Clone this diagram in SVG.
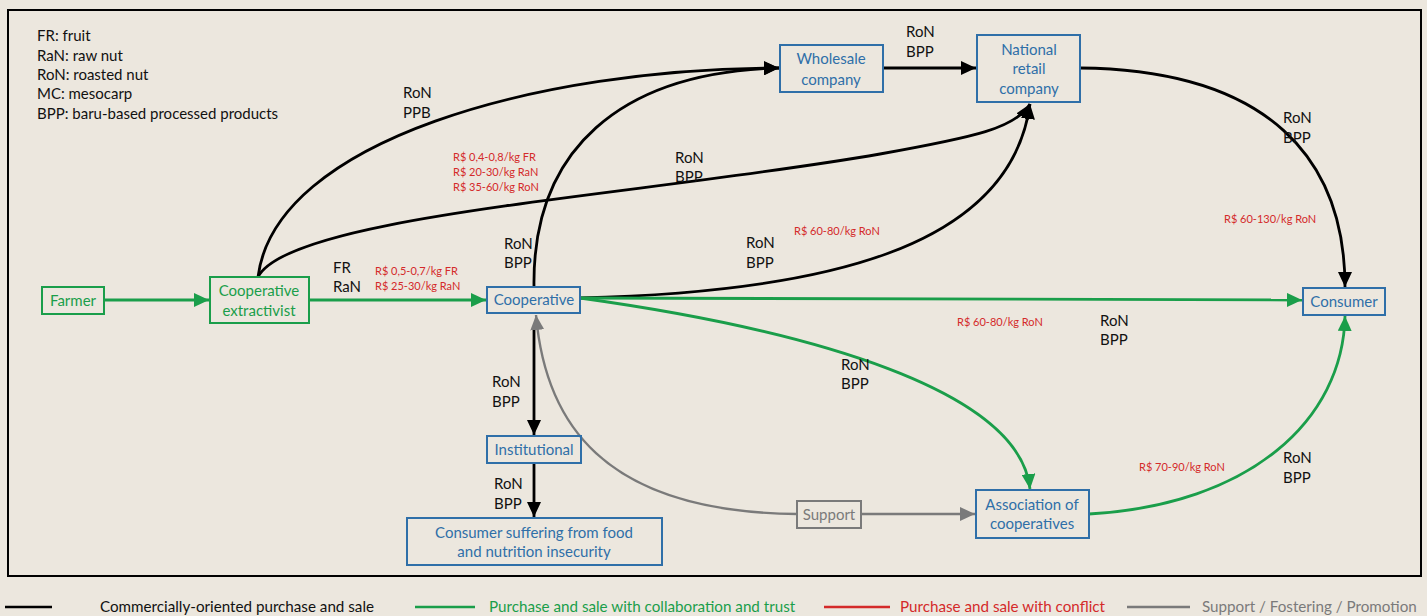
<svg xmlns="http://www.w3.org/2000/svg" width="1427" height="616" viewBox="0 0 1427 616">
  <style>
    text { font-family: Lato, "Open Sans", "Liberation Sans", sans-serif; }
    .lbl { font-size: 15px; fill: #111; }
    .price { font-size: 11px; fill: #d42a2a; }
    .nodeB rect { fill: none; stroke: #2f6fa8; stroke-width: 2; }
    .nodeB text { font-size: 15px; fill: #2f6fa8; text-anchor: middle; }
    .nodeG rect { fill: none; stroke: #1a9e4a; stroke-width: 2; }
    .nodeG text { font-size: 15px; fill: #1a9e4a; text-anchor: middle; }
    .nodeS rect { fill: none; stroke: #7a7a7a; stroke-width: 2; }
    .nodeS text { font-size: 15px; fill: #7a7a7a; text-anchor: middle; }
    .blk { fill: none; stroke: #000; stroke-width: 2.8; marker-end: url(#ahB); }
    .grn { fill: none; stroke: #1a9e4a; stroke-width: 2.8; marker-end: url(#ahG); }
    .gry { fill: none; stroke: #7a7a7a; stroke-width: 2.4; marker-end: url(#ahS); }
    .leg { font-size: 15.2px; }
  </style>
  <defs>
    <marker id="ahB" markerUnits="userSpaceOnUse" markerWidth="16" markerHeight="14" refX="15" refY="7" orient="auto">
      <path d="M0,0 L15,7 L0,14 z" fill="#000"/>
    </marker>
    <marker id="ahG" markerUnits="userSpaceOnUse" markerWidth="16" markerHeight="14" refX="15" refY="7" orient="auto">
      <path d="M0,0 L15,7 L0,14 z" fill="#1a9e4a"/>
    </marker>
    <marker id="ahS" markerUnits="userSpaceOnUse" markerWidth="16" markerHeight="14" refX="15" refY="7" orient="auto">
      <path d="M0,0 L15,7 L0,14 z" fill="#7a7a7a"/>
    </marker>
  </defs>

  <!-- paper background and frame -->
  <rect x="0" y="0" width="1427" height="616" fill="#ece7de"/>
  <rect x="8" y="10" width="1413" height="566" fill="none" stroke="#000" stroke-width="2"/>

  <!-- abbreviations -->
  <g id="abbrev" class="lbl">
    <text x="37" y="41">FR: fruit</text>
    <text x="37" y="61">RaN: raw nut</text>
    <text x="37" y="80">RoN: roasted nut</text>
    <text x="37" y="99">MC: mesocarp</text>
    <text x="37" y="119">BPP: baru-based processed products</text>
  </g>

  <!-- connectors -->
  <g id="connectors">
    <path class="grn" d="M104,300 L209,300"/>
    <path class="grn" d="M309,300 L486,300"/>
    <path class="blk" d="M258,277 C 275,140 540,68 779,68"/>
    <path class="blk" d="M258,277 C 290,215 640,196 880,154 C 975,137 1016,128 1030,104"/>
    <path class="blk" d="M534,287 C 532,150 620,72 779,68"/>
    <path class="blk" d="M580,298 C 820,292 1010,250 1030,104"/>
    <path class="blk" d="M883,68 L976,68"/>
    <path class="blk" d="M1080,68 C 1270,70 1345,160 1345,287"/>
    <path class="grn" d="M580,298 L1302,300"/>
    <path class="grn" d="M580,298 C 810,330 1020,390 1030,489"/>
    <path class="grn" d="M1089,514 C 1250,505 1343,420 1345,316"/>
    <path class="blk" d="M534,330 L534,435"/>
    <path class="gry" d="M797,514 C 600,512 545,420 536,315"/>
    <path class="blk" d="M534,463 L534,517"/>
    <path class="gry" d="M861,514 L975,514"/>
  </g>

  <!-- nodes -->
  <g id="farmer" class="nodeG">
    <rect x="42" y="287" width="62" height="27"/>
    <text x="73" y="306">Farmer</text>
  </g>
  <g id="coop-extractivist" class="nodeG">
    <rect x="210" y="277" width="99" height="46"/>
    <text x="259" y="296">Cooperative</text>
    <text x="259" y="316">extractivist</text>
  </g>
  <g id="cooperative" class="nodeB">
    <rect x="487" y="287" width="93" height="26"/>
    <text x="534" y="305">Cooperative</text>
  </g>
  <g id="wholesale" class="nodeB">
    <rect x="780" y="45" width="103" height="47"/>
    <text x="831" y="64">Wholesale</text>
    <text x="831" y="85">company</text>
  </g>
  <g id="national-retail" class="nodeB">
    <rect x="977" y="35" width="103" height="67"/>
    <text x="1029" y="55">National</text>
    <text x="1029" y="74">retail</text>
    <text x="1029" y="94">company</text>
  </g>
  <g id="consumer" class="nodeB">
    <rect x="1303" y="288" width="82" height="27"/>
    <text x="1344" y="307">Consumer</text>
  </g>
  <g id="institutional" class="nodeB">
    <rect x="487" y="436" width="94" height="27"/>
    <text x="534" y="455">Institutional</text>
  </g>
  <g id="consumer-insecurity" class="nodeB">
    <rect x="407" y="518" width="255" height="47"/>
    <text x="534" y="538">Consumer suffering from food</text>
    <text x="534" y="557">and nutrition insecurity</text>
  </g>
  <g id="association" class="nodeB">
    <rect x="976" y="490" width="113" height="48"/>
    <text x="1032" y="510">Association of</text>
    <text x="1032" y="529">cooperatives</text>
  </g>
  <g id="support" class="nodeS">
    <rect x="797" y="501" width="64" height="27"/>
    <text x="829" y="520">Support</text>
  </g>

  <!-- flow labels -->
  <g id="flow-labels" class="lbl">
    <text x="403" y="98">RoN</text><text x="403" y="118">PPB</text>
    <text x="333" y="273">FR</text><text x="333" y="292">RaN</text>
    <text x="504" y="249">RoN</text><text x="504" y="268">BPP</text>
    <text x="675" y="163">RoN</text><text x="675" y="182">BPP</text>
    <text x="746" y="248">RoN</text><text x="746" y="268">BPP</text>
    <text x="906" y="37">RoN</text><text x="906" y="57">BPP</text>
    <text x="1283" y="123">RoN</text><text x="1283" y="143">BPP</text>
    <text x="1100" y="326">RoN</text><text x="1100" y="345">BPP</text>
    <text x="841" y="370">RoN</text><text x="841" y="389">BPP</text>
    <text x="492" y="387">RoN</text><text x="492" y="407">BPP</text>
    <text x="494" y="489">RoN</text><text x="494" y="509">BPP</text>
    <text x="1283" y="463">RoN</text><text x="1283" y="483">BPP</text>
  </g>

  <!-- price labels -->
  <g id="price-labels" class="price">
    <text x="453" y="161">R$ 0,4-0,8/kg FR</text>
    <text x="453" y="176">R$ 20-30/kg RaN</text>
    <text x="453" y="191">R$ 35-60/kg RoN</text>
    <text x="375" y="275">R$ 0,5-0,7/kg FR</text>
    <text x="375" y="290">R$ 25-30/kg RaN</text>
    <text x="794" y="235">R$ 60-80/kg RoN</text>
    <text x="1224" y="223">R$ 60-130/kg RoN</text>
    <text x="957" y="326">R$ 60-80/kg RoN</text>
    <text x="1139" y="471">R$ 70-90/kg RoN</text>
  </g>

  <!-- legend -->
  <g id="legend" class="leg">
    <line x1="5" y1="607" x2="52" y2="607" stroke="#000" stroke-width="2.5"/>
    <text x="100" y="612" fill="#111">Commercially-oriented purchase and sale</text>
    <line x1="415" y1="607" x2="475" y2="607" stroke="#1a9e4a" stroke-width="2.5"/>
    <text x="489" y="612" fill="#1a9e4a">Purchase and sale with collaboration and trust</text>
    <line x1="824" y1="607" x2="890" y2="607" stroke="#d42a2a" stroke-width="2.5"/>
    <text x="900" y="612" fill="#d42a2a">Purchase and sale with conflict</text>
    <line x1="1127" y1="607" x2="1190" y2="607" stroke="#7a7a7a" stroke-width="2.5"/>
    <text x="1202" y="612" fill="#7a7a7a">Support / Fostering / Promotion</text>
  </g>
</svg>
